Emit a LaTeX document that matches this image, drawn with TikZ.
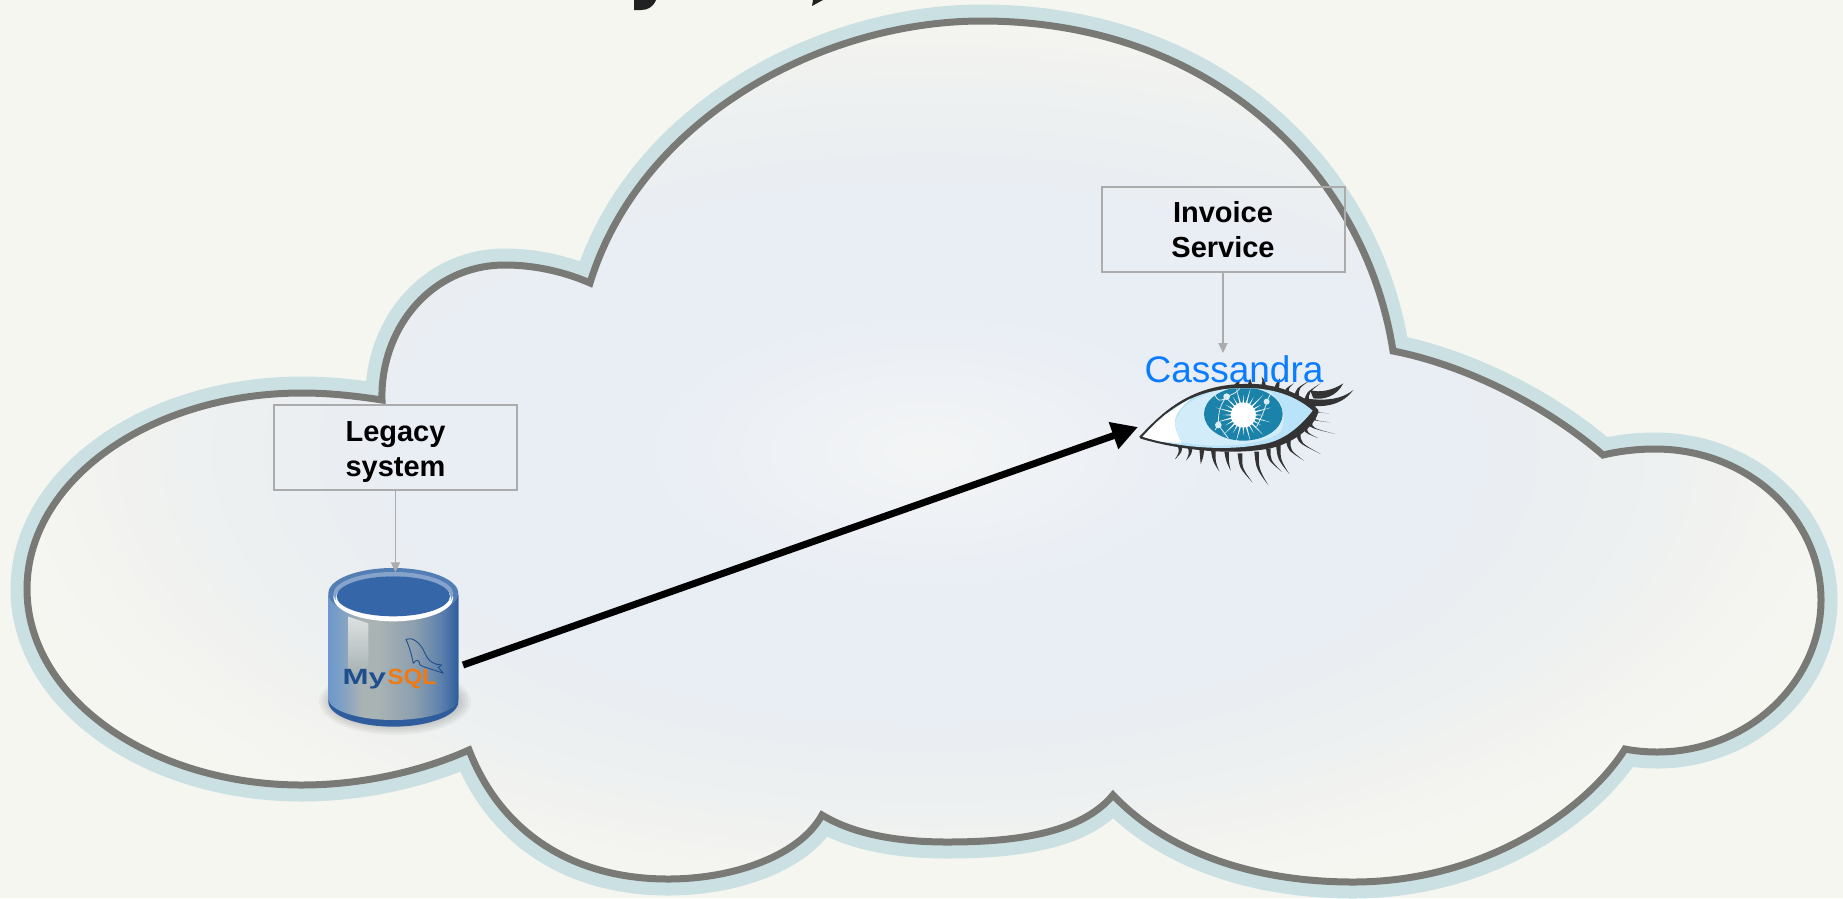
\documentclass[tikz,border=0pt]{standalone}
\usepackage{fontspec}
\setmainfont{Liberation Sans}
\usetikzlibrary{arrows.meta,calc}
\definecolor{pagebg}{HTML}{F6F6F1}
\definecolor{halo}{HTML}{CBE0E3}
\definecolor{cloudline}{HTML}{797A76}
\definecolor{boxline}{HTML}{ABABAB}
\definecolor{casblue}{HTML}{0A7CFF}
\definecolor{sclera}{HTML}{B9E3F8}
\definecolor{scleralight}{HTML}{D3ECFA}
\definecolor{iris}{HTML}{1B82A9}
\definecolor{lash}{HTML}{333333}
\definecolor{dbblue}{HTML}{3566A8}
\definecolor{dbdark}{HTML}{2F5C9C}
\definecolor{dbname}{HTML}{1F4E8C}
\definecolor{dborange}{HTML}{F07A10}
\definecolor{cfa}{HTML}{F3F5F5}\definecolor{cfb}{HTML}{EEF1F5}\definecolor{cfc}{HTML}{E9EEF5}
\definecolor{cfd}{HTML}{E9EDF4}\definecolor{cfe}{HTML}{ECF0F1}\definecolor{cff}{HTML}{F3F3F0}\definecolor{cfg}{HTML}{F6F6F1}
\definecolor{dba}{HTML}{6C98CC}\definecolor{dbb}{HTML}{7FA0C4}\definecolor{dbc}{HTML}{A9B3B4}
\definecolor{dbd}{HTML}{A9B3B4}\definecolor{dbe}{HTML}{8C9FAF}\definecolor{dbf}{HTML}{5E82AC}
\definecolor{dbg}{HTML}{3C69A4}\definecolor{dbh}{HTML}{2F5B98}
\pgfdeclareradialshading{cloudfill}{\pgfpoint{0bp}{0bp}}{%
  color(0bp)=(cfa);color(3.75bp)=(cfb);color(7.5bp)=(cfc);color(13.75bp)=(cfd);color(18bp)=(cfe);color(22bp)=(cff);color(25bp)=(cfg);color(50bp)=(cfg)}
\pgfdeclarehorizontalshading{dbbody}{100bp}{%
  color(0bp)=(dba);color(25bp)=(dba);color(30bp)=(dbb);color(38bp)=(dbc);color(44bp)=(dbd);color(58bp)=(dbe);color(68bp)=(dbf);color(73bp)=(dbg);color(75bp)=(dbh);color(100bp)=(dbh)}
\newcommand{\blabel}[2]{\raisebox{#1}[24.5pt][10.5pt]{#2}}
\tikzset{
  textbox/.style={draw=boxline,line width=2pt,minimum width=243pt,minimum height=85pt,inner sep=0pt,
    align=center,font=\fontsize{29pt}{35pt}\selectfont\bfseries,text=black},
  thinlink/.style={draw=boxline,line width=1.8pt,-{Triangle[length=10pt,width=9pt]}},
  biglink/.style={draw=black,line width=7pt,-{Triangle[length=26pt,width=27pt]}},
  cloudpath/.style={line join=miter,miter limit=8}
}
\newcommand{\cloudshape}{%
  (469,750) .. controls (420,772) and (360,785) .. (302,785)
  .. controls (150,785) and (27,697) .. (27,589)
  .. controls (27,481) and (150,393) .. (302,393)
  .. controls (330,393) and (356,396) .. (382,400)
  .. controls (380,330) and (430,265) .. (505,265)
  .. controls (535,265) and (565,272) .. (590,283)
  .. controls (640,120) and (820,21) .. (982,21)
  .. controls (1210,21) and (1365,170) .. (1393,351)
  .. controls (1465,365) and (1545,405) .. (1603,455)
  .. controls (1620,451) and (1637,449) .. (1655,449)
  .. controls (1747,449) and (1821,517) .. (1821,600)
  .. controls (1821,683) and (1747,752) .. (1657,752)
  .. controls (1646,752) and (1635,751) .. (1625,749)
  .. controls (1590,805) and (1490,882) .. (1353,882)
  .. controls (1250,882) and (1165,850) .. (1113,795)
  .. controls (1080,835) and (1010,842) .. (947,842)
  .. controls (900,842) and (855,835) .. (822,815)
  .. controls (800,855) and (735,879) .. (668,879)
  .. controls (570,879) and (500,830) .. (469,750)
  -- cycle}
\begin{document}
\begin{tikzpicture}[x=1pt,y=-1pt]
\useasboundingbox (0,0) rectangle (1843,898);
\fill[pagebg] (0,0) rectangle (1843,898);
% cut-off title remnants
\fill[black!87] (634,0) -- (656,0) .. controls (653,7) and (648,10) .. (641,10) -- (634,10) -- cycle;
\fill[black!87] (813,0) -- (823,0) -- (812,6) -- cycle;
% cloud
\draw[halo,line width=33pt,cloudpath] \cloudshape;
\begin{scope}
  \clip \cloudshape;
  \shade[shading=cloudfill] (-32,-18) rectangle (1888,922);
\end{scope}
\draw[cloudline,line width=7pt,cloudpath] \cloudshape;

% MySQL cylinder
\begin{scope}[shift={(260,390)},x=.3333pt,y=-.3333pt]
  \foreach \w/\h in {228/100,220/94,212/88,204/82,196/76}{
    \fill[black,opacity=.035] (405,935) ellipse [x radius=\w,y radius=\h];
  }
  \fill[dbdark] (205,615) -- (205,935) arc[start angle=180,end angle=0,x radius=195,y radius=75] -- (595,615) -- cycle;
  \shade[shading=dbbody] (205,615) -- (205,925) arc[start angle=180,end angle=0,x radius=195,y radius=65] -- (595,615) -- cycle;
  \shade[top color=white!60!dbc,bottom color=dbc] (265,680) -- (325,700) -- (325,850) -- (265,850) -- cycle;
  \fill[dbblue!85!white] (400,610) ellipse (195 and 76);
  \fill[white] (400,622) ellipse (180 and 72);
  \fill[dbblue!60!white] (400,612) ellipse (180 and 66);
  \fill[white] (400,625) ellipse (173 and 65);
  \fill[dbblue] (400,619) ellipse (170 and 60);
  % dolphin
  \draw[dbname,line width=.9pt,line join=round] (438,748) .. controls (455,740) and (480,755) .. (495,790)
     .. controls (505,815) and (525,825) .. (545,825) -- (535,832) -- (550,850)
     .. controls (525,840) and (500,835) .. (480,825) .. controls (478,810) and (470,805) .. (460,820)
     .. controls (455,795) and (450,775) .. (438,748) -- cycle;
  \node[anchor=base west,inner sep=0pt,text=dbname,font=\fontsize{22pt}{22pt}\selectfont\bfseries,xscale=1.42] (mysqlmy) at (247,885) {My};
  \node[anchor=base west,inner sep=0pt,text=dborange,font=\fontsize{22pt}{22pt}\selectfont\bfseries,xscale=1.09] (mysqlsql) at (382,885) {SQL};
\end{scope}
\node[minimum width=130pt,minimum height=154pt,inner sep=0pt] (mysql) at (393,649.5) {};

% Cassandra eye
\begin{scope}[shift={(1080,170)},x=.3333pt,y=-.3333pt]
  % lashes
  \foreach \a/\b/\c/\d in {300/825/285/868,330/830/318/872,365/835/362/882,400/842/418/905,440/845/452/902,480/850/518/938,530/845/565/946,565/835/605/905,595/825/628/912,625/810/672/872,655/785/722/852,675/770/715/805,690/755/766/792,700/745/750/757,710/725/747/730,
     700/710/745/690,680/695/722/640,650/680/692/630,620/668/642/640,590/655/600/625,550/648/545/620,510/645/510/625,470/645/480/630}{
    \fill[lash] ({\a-7},\b) .. controls ({\a-2},{(\b+\d)/2}) .. (\c,\d) .. controls ({\a+6},{(\b+\d)/2}) .. ({\a+7},\b) -- cycle;
  }
  \fill[lash] (640,680) .. controls (700,690) and (770,700) .. (820,660) .. controls (780,715) and (710,715) .. (650,700) -- cycle;
  \fill[lash] (690,660) .. controls (720,670) and (760,660) .. (790,640) .. controls (770,680) and (730,690) .. (700,685) -- cycle;
  \fill[lash] (178,800) .. controls (240,735) and (325,645) .. (490,642) .. controls (580,637) and (670,670) .. (715,720)
     .. controls (715,760) and (640,825) .. (560,837) .. controls (440,857) and (290,838) .. (182,806) -- cycle;
  \begin{scope}
    \clip (188,800) .. controls (245,738) and (330,652) .. (490,655) .. controls (580,652) and (650,680) .. (698,722)
     .. controls (660,770) and (610,815) .. (540,824) .. controls (430,845) and (280,830) .. (188,800) -- cycle;
    \fill[sclera] (150,600) rectangle (750,880);
    \fill[scleralight] (285,760) .. controls (300,700) and (370,660) .. (490,650) .. controls (600,650) and (625,720) .. (605,780) .. controls (570,825) and (400,840) .. (300,815) -- cycle;
    \fill[white] (170,810) -- (200,770) -- (340,680) .. controls (300,710) and (280,740) .. (285,765) .. controls (288,785) and (295,800) .. (305,820) -- cycle;
    \fill[iris] (490,732) ellipse (118 and 80);
    \foreach \r [count=\i] in {0,15,...,345}{
      \pgfmathsetmacro{\len}{mod(\i,2)==0?85:62}
      \fill[white] ($(490,735)+(\r-5:28)$) -- ($(490,735)+(\r:\len)$) -- ($(490,735)+(\r+5:28)$) -- cycle;
    }
    \fill[white] (490,735) circle (38);
    \draw[white!85!iris,line width=.8pt] (403,670) .. controls (410,690) and (420,700) .. (440,680) (440,680) .. controls (480,665) and (470,660) .. (480,655)
       (440,680) .. controls (415,710) and (415,740) .. (415,765) -- (445,805) (415,765) -- (405,780)
       (560,695) -- (575,665) (560,695) .. controls (555,720) and (540,750) .. (530,770);
    \fill[white!85!iris] (440,680) circle (10) (415,765) circle (10) (560,695) circle (9);
  \end{scope}
\end{scope}
\node[anchor=base,inner sep=0pt,text=casblue,font=\fontsize{37pt}{40pt}\selectfont] (cass) at (1234,382) {Cassandra};

% boxes
\node[textbox] (invoice) at (1223,229.5) {\blabel{-3.5pt}{Invoice}\\\blabel{-3.5pt}{Service}};
\node[textbox] (legacy) at (395.5,447) {\blabel{-5pt}{Legacy}\\\blabel{-5pt}{system}};

% connectors
\coordinate (cassin) at (1223,353);
\coordinate (dbout) at (463,665);
\coordinate (eyein) at (1138,427);
\draw[thinlink] (invoice.south) -- (cassin);
\draw[thinlink] (legacy.south) -- (legacy.south |- mysql.north);
\draw[biglink] (dbout) -- (eyein);
\end{tikzpicture}
\end{document}
